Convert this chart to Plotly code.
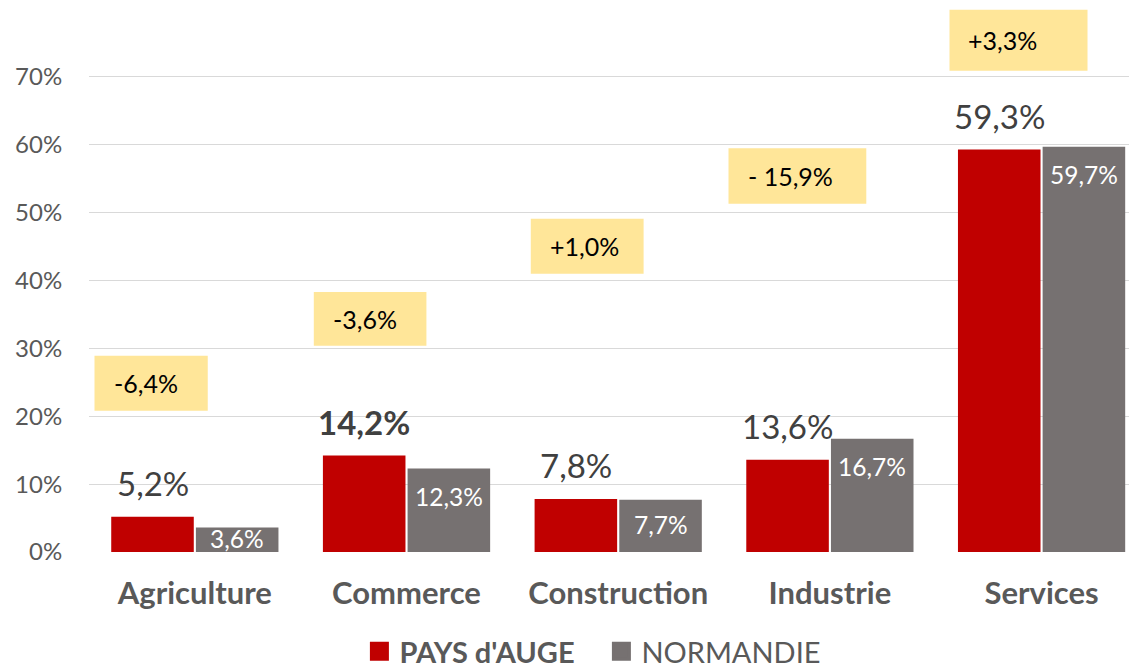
import plotly.graph_objects as go

# ---------------- data ----------------
categories = ["Agriculture", "Commerce", "Construction", "Industrie", "Services"]
pays_auge = [5.2, 14.2, 7.8, 13.6, 59.3]
normandie = [3.6, 12.3, 7.7, 16.7, 59.7]
evolution_labels = ["-6,4%", "-3,6%", "+1,0%", "- 15,9%", "+3,3%"]
y_tick_vals = [0, 10, 20, 30, 40, 50, 60, 70]
y_tick_text = ["0%", "10%", "20%", "30%", "40%", "50%", "60%", "70%"]
series_names = ["PAYS d'AUGE", "NORMANDIE"]
highlight_index = 1  # bold label (Commerce)

# ---------------- style ----------------
RED = "#C00000"
GREY = "#767171"
YELLOW = "#FFE699"
AXIS_TXT = "#595959"
LABEL_TXT = "#404040"
FONT = "Lato"

# yellow boxes layout: (left offset, right offset) in category units, (bottom, top) in y units
box_x = [(-0.474, 0.061), (-0.438, 0.094), (-0.413, 0.120), (-0.479, 0.172), (-0.435, 0.217)]
box_y = [(20.8, 28.9), (30.4, 38.3), (41.0, 49.1), (51.3, 59.5), (70.9, 79.9)]


def fmt(v):
    return f"{v:.1f}".replace(".", ",") + "%"


fig = go.Figure()
fig.add_trace(go.Bar(x=categories, y=pays_auge, name=series_names[0],
                     marker=dict(color=RED, line=dict(width=0)), showlegend=False))
fig.add_trace(go.Bar(x=categories, y=normandie, name=series_names[1],
                     marker=dict(color=GREY, line=dict(width=0)), showlegend=False))

# legend entries (square markers)
fig.add_trace(go.Scatter(x=[None], y=[None], mode="markers", name="<b>" + series_names[0] + "</b>",
                         marker=dict(symbol="square", size=16, color=RED, line=dict(color=RED, width=3))))
fig.add_trace(go.Scatter(x=[None], y=[None], mode="markers", name=series_names[1],
                         marker=dict(symbol="square", size=16, color=GREY, line=dict(color=GREY, width=3))))

annotations = []
shapes = []
for i, cat in enumerate(categories):
    # PAYS d'AUGE label above bar
    t = fmt(pays_auge[i])
    if i == highlight_index:
        t = "<b>" + t + "</b>"
    annotations.append(dict(x=i - 0.2, y=pays_auge[i], xref="x", yref="y", text=t,
                            showarrow=False, yanchor="bottom", yshift=12,
                            font=dict(family=FONT, size=33, color=LABEL_TXT)))
    # NORMANDIE label inside bar
    v = normandie[i]
    if v >= 10:
        annotations.append(dict(x=i + 0.2, y=v, xref="x", yref="y", text=fmt(v),
                                showarrow=False, yanchor="top", yshift=-11,
                                font=dict(family=FONT, size=24.5, color="white")))
    else:
        annotations.append(dict(x=i + 0.2, y=v / 2, xref="x", yref="y", text=fmt(v),
                                showarrow=False, yanchor="middle", yshift=1,
                                font=dict(family=FONT, size=24.5, color="white")))
    # yellow evolution boxes
    x0, x1 = box_x[i]
    y0, y1 = box_y[i]
    shapes.append(dict(type="rect", xref="x", yref="y", x0=i + x0, x1=i + x1, y0=y0, y1=y1,
                       fillcolor=YELLOW, line=dict(width=0), layer="above"))
    annotations.append(dict(x=i + x0, y=(y0 + y1) / 2, xref="x", yref="y", text=evolution_labels[i],
                            showarrow=False, xanchor="left", yanchor="middle", xshift=17,
                            font=dict(family=FONT, size=25, color="black")))

fig.update_layout(
    width=1129, height=666,
    margin=dict(l=89, r=0, t=9, b=114, autoexpand=False),
    paper_bgcolor="white", plot_bgcolor="white",
    barmode="group", bargap=0.2, bargroupgap=0.025,
    font=dict(family=FONT, color=AXIS_TXT),
    shapes=shapes, annotations=annotations,
    legend=dict(orientation="h", x=0.260, xanchor="left", y=-0.183, yanchor="middle",
                entrywidth=197, entrywidthmode="pixels",
                font=dict(family=FONT, size=29, color=AXIS_TXT), bgcolor="rgba(0,0,0,0)"),
    xaxis=dict(range=[-0.5, 4.413], showgrid=False, showline=False, zeroline=False,
               ticks="outside", ticklen=14, tickcolor="rgba(0,0,0,0)",
               tickfont=dict(family=FONT, size=31, color=AXIS_TXT, weight="bold")),
    yaxis=dict(range=[0, 80], tickvals=y_tick_vals, ticktext=y_tick_text,
               showgrid=True, gridcolor="#D9D9D9", gridwidth=1.3, zeroline=False, showline=False,
               ticks="outside", ticklen=21, tickcolor="rgba(0,0,0,0)",
               tickfont=dict(family=FONT, size=24, color=AXIS_TXT)),
)

fig.write_html("out.html", config={"displayModeBar": False},
               post_script="document.body.style.margin='0';")
